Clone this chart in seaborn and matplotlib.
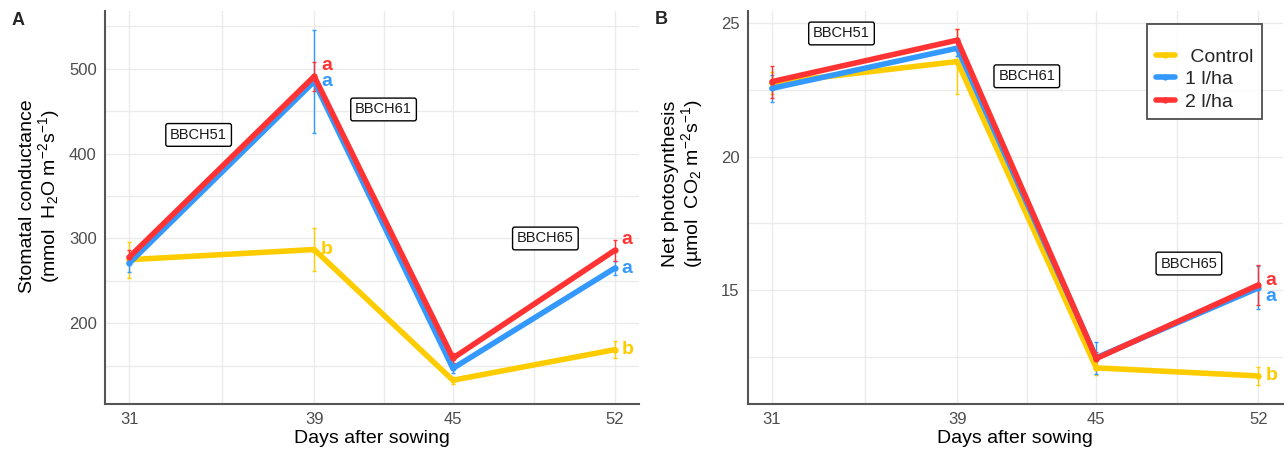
import numpy as np
import pandas as pd
import matplotlib
matplotlib.use("Agg")
import matplotlib.pyplot as plt
from matplotlib.ticker import MultipleLocator
import seaborn as sns

# ---- data -------------------------------------------------------------
days = [31, 39, 45, 52]
treatments = ["Control", "1 l/ha", "2 l/ha"]
colors = {"Control": "#FFCC00", "1 l/ha": "#3399FF", "2 l/ha": "#FF3333"}

# Stomatal conductance (mmol H2O m-2 s-1)
gs_control = [275, 287, 133, 169]
gs_1lha = [271, 485, 147, 265]
gs_2lha = [278, 491, 159, 286]
gs_control_se = [21, 25, 4, 10]
gs_1lha_se = [10, 61, 6, 8]
gs_2lha_se = [8, 17, 6, 12]
gs_letters = {"Control": ["", "b", "", "b"],
              "1 l/ha": ["", "a", "", "a"],
              "2 l/ha": ["", "a", "", "a"]}

# Net photosynthesis (umol CO2 m-2 s-1)
pn_control = [22.75, 23.55, 12.1, 11.8]
pn_1lha = [22.55, 24.05, 12.48, 15.09]
pn_2lha = [22.8, 24.35, 12.45, 15.2]
pn_control_se = [0.4, 1.2, 0.25, 0.35]
pn_1lha_se = [0.5, 0.3, 0.6, 0.8]
pn_2lha_se = [0.6, 0.4, 0.25, 0.75]
pn_letters = {"Control": ["", "", "", "b"],
              "1 l/ha": ["", "", "", "a"],
              "2 l/ha": ["", "", "", "a"]}

stages = ["BBCH51", "BBCH61", "BBCH65"]
gs_stage_x = [34, 42, 49]
gs_stage_y = [422, 452, 300]
pn_stage_x = [34, 42, 49]
pn_stage_y = [24.6, 23.0, 16.0]


def long_frame(means, ses):
    rows = []
    for trt, m, s in zip(treatments, means, ses):
        for d, v, e in zip(days, m, s):
            rows.append({"day": d, "treatment": trt, "value": v, "se": e})
    return pd.DataFrame(rows)


gs_df = long_frame([gs_control, gs_1lha, gs_2lha],
                   [gs_control_se, gs_1lha_se, gs_2lha_se])
pn_df = long_frame([pn_control, pn_1lha, pn_2lha],
                   [pn_control_se, pn_1lha_se, pn_2lha_se])

# ---- style ------------------------------------------------------------
sns.set_style("white")
plt.rcParams["font.family"] = ["Liberation Sans", "DejaVu Sans"]
plt.rcParams["mathtext.fontset"] = "custom"
plt.rcParams["mathtext.rm"] = "Liberation Sans"
plt.rcParams["mathtext.it"] = "Liberation Sans:italic"
plt.rcParams["mathtext.bf"] = "Liberation Sans:bold"

fig = plt.figure(figsize=(12.88, 4.53), dpi=100)
ax_a = fig.add_axes([105 / 1288, 49 / 453, 534 / 1288, 393 / 453])
ax_b = fig.add_axes([747.7 / 1288, 49 / 453, 535 / 1288, 393 / 453])

# letter nudges (points) so stacked letters don't collide
gs_letter_dy = {"Control": 0, "1 l/ha": 0, "2 l/ha": 8}
pn_letter_dy = {"Control": 0, "1 l/ha": -6, "2 l/ha": 3}


def draw_panel(ax, df, letters, letter_dy, ylim, ymajor, yminor, ylabel,
               stage_x, stage_y):
    ax.set_xlim(29.95, 53.05)
    ax.set_ylim(*ylim)
    ax.set_xticks(days)
    ax.set_xticks([35, 42, 48.5], minor=True)
    ax.yaxis.set_major_locator(MultipleLocator(ymajor))
    ax.yaxis.set_minor_locator(MultipleLocator(yminor))
    ax.grid(True, which="both", color="#EBEBEB", linewidth=1.0)
    ax.set_axisbelow(True)

    sns.lineplot(data=df, x="day", y="value", hue="treatment",
                 hue_order=treatments, palette=colors, linewidth=4.0,
                 marker="o", markersize=4.5, markeredgewidth=0,
                 errorbar=None, ax=ax, legend=False, zorder=3)
    for trt in treatments:
        sub = df[df["treatment"] == trt]
        ax.errorbar(sub["day"], sub["value"], yerr=sub["se"], fmt="none",
                    ecolor=colors[trt], elinewidth=1.0, capsize=1.5,
                    capthick=1.0, zorder=2)
        for d, v, lab in zip(sub["day"], sub["value"], letters[trt]):
            if lab:
                ax.annotate(lab, (d, v), xytext=(5, letter_dy[trt]),
                            textcoords="offset points", ha="left",
                            va="center", color=colors[trt],
                            fontsize=14, fontweight="bold", zorder=4)

    for s, x, y in zip(stages, stage_x, stage_y):
        ax.text(x, y, s, ha="center", va="center", fontsize=10.5,
                color="#1a1a1a", zorder=5,
                bbox=dict(boxstyle="round,pad=0.3,rounding_size=0.15",
                          facecolor="white", edgecolor="black",
                          linewidth=1.0))

    for side in ("top", "right"):
        ax.spines[side].set_visible(False)
    for side in ("left", "bottom"):
        ax.spines[side].set_color("#555555")
        ax.spines[side].set_linewidth(1.5)
    ax.tick_params(axis="both", which="both", length=0, labelsize=12,
                   labelcolor="#4D4D4D")
    ax.tick_params(axis="x", pad=6)
    ax.tick_params(axis="y", pad=6)
    ax.set_xlabel("Days after sowing", fontsize=14, color="black")
    ax.set_ylabel(ylabel, fontsize=14, color="black", linespacing=1.0)
    ax.xaxis.set_label_coords(0.5, -0.066)


draw_panel(ax_a, gs_df, gs_letters, gs_letter_dy, (105, 568), 100, 50,
           "Stomatal conductance\n(mmol  H$_2$O m$^{-2}$s$^{-1}$)",
           gs_stage_x, gs_stage_y)
ax_a.yaxis.set_label_coords(-0.08, 0.53)

draw_panel(ax_b, pn_df, pn_letters, pn_letter_dy, (10.75, 25.44), 5, 2.5,
           "Net photosynthesis\n(µmol  CO$_2$ m$^{-2}$s$^{-1}$)",
           pn_stage_x, pn_stage_y)
ax_b.yaxis.set_label_coords(-0.08, 0.56)

# legend built from line handles
handles = [plt.Line2D([], [], color=colors[t], linewidth=4.0, marker="o",
                      markersize=4.5, markeredgewidth=0) for t in treatments]
leg = ax_b.legend(handles, [" Control", "1 l/ha", "2 l/ha"],
                  loc="upper right", bbox_to_anchor=(0.961, 0.966),
                  fontsize=14, title=" ", title_fontsize=7,
                  frameon=True, fancybox=False, handlelength=1.0,
                  handletextpad=0.5, labelspacing=0.25, borderpad=0.45,
                  borderaxespad=0)
leg.get_frame().set_edgecolor("#222222")
leg.get_frame().set_linewidth(1.3)
leg.set_zorder(6)

fig.text(17.7 / 1288, 1 - 20.7 / 453, "A", fontsize=13, fontweight="bold",
         ha="center", va="center")
fig.text(661.7 / 1288, 1 - 20 / 453, "B", fontsize=13, fontweight="bold",
         ha="center", va="center")

fig.savefig("out.png", dpi=100, facecolor="white")
